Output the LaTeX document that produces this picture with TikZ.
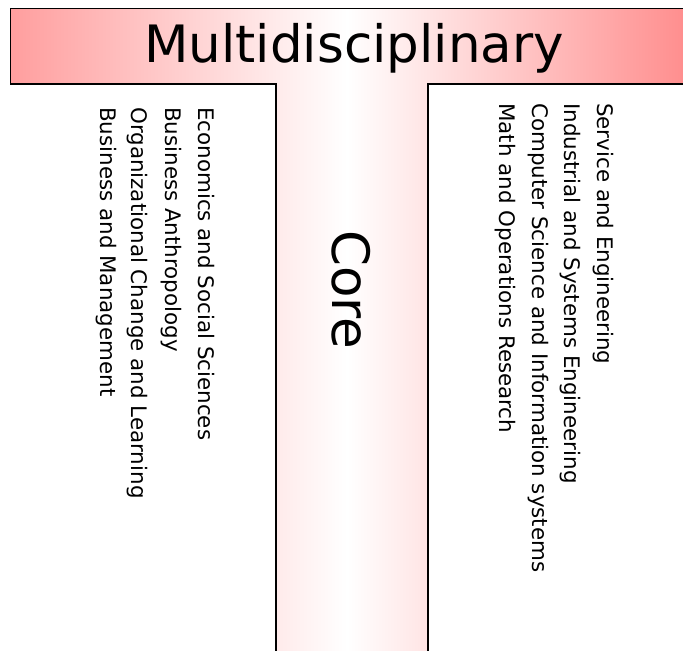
\documentclass[tikz,border=0pt]{standalone}
\usepackage{fontspec}
\setmainfont{DejaVu Sans}
\begin{document}
\begin{tikzpicture}[x=1bp,y=-1bp,
  title/.style={inner sep=0pt,font=\fontsize{51.5bp}{60bp}\selectfont},
  field/.style={inner sep=0pt,rotate=-90,anchor=base west,font=\fontsize{21.4bp}{25bp}\selectfont},
  outline/.style={line width=1.9bp,black,line join=miter}]
\useasboundingbox (0,0) rectangle (683,651);
\begin{scope}
  \clip (0,0) rectangle (683,651);
  % T-shaped body with a horizontal red-white-red blend
  \shade[left color=red!38,right color=red!44,middle color=white]
    (10.5,8.5) -- (683,8.5) -- (683,84) -- (428,84) -- (428,660)
    -- (276,660) -- (276,84) -- (10.5,84) -- cycle;
  \draw[outline] (690,8.5) -- (10.5,8.5) -- (10.5,84) -- (276,84) -- (276,660);
  \draw[outline] (428,660) -- (428,84) -- (690,84);
\end{scope}
\node[title,anchor=base] (multi) at (354,63) {Multidisciplinary};
\node[title,rotate=-90,anchor=base west] (core) at (332,230) {Core};
% business side
\node[field] (econ) at (198,107) {Economics and Social Sciences};
\node[field] (anth) at (165,107) {Business Anthropology};
\node[field] (org) at (131,107) {Organizational Change and Learning};
\node[field] (mgmt) at (100,107) {Business and Management};
% engineering side
\node[field] (serv) at (597,103) {Service and Engineering};
\node[field] (ind) at (564,103) {Industrial and Systems Engineering};
\node[field] (cs) at (532,103) {Computer Science and Information systems};
\node[field] (math) at (499,103) {Math and Operations Research};
\end{tikzpicture}
\end{document}
